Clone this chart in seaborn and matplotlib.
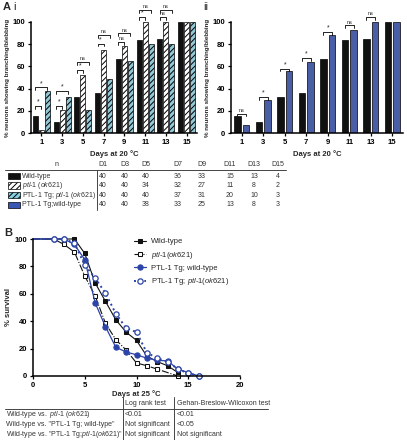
import matplotlib
matplotlib.use("Agg")
import matplotlib.pyplot as plt
from matplotlib.lines import Line2D
from matplotlib.patches import Rectangle
import pandas as pd
import seaborn as sns

# ---- panel A data (% neurons showing branching/blebbing) ----
Days = [1, 3, 5, 7, 9, 11, 13, 15]
WildType = [15, 10, 32.5, 36, 67, 83.5, 85, 100]
Ptl1 = [3, 20.5, 52, 75, 78, 100, 100, 100]
TgPtl1 = [37.5, 32.5, 20.5, 49, 64.5, 80.5, 80.5, 100]
TgWildType = [7.5, 30, 55.5, 64, 88.5, 92.5, 100, 100]

# significance brackets: (height, label), one per day (none at day 15)
SigPtl1 = [(24, "*"), (24, "*"), (56.5, "*"), (80.5, "*"), (82, "ns"), (104.5, "*"), (104.5, "ns")]
SigTgPtl1 = [(41, "*"), (38, "*"), (64, "ns"), (88.5, "ns"), (90, "ns"), (111, "ns"), (111, "ns")]
SigTgWT = [(17.5, "ns"), (32.5, "*"), (58, "*"), (67.5, "*"), (91, "*"), (97, "ns"), (104.5, "ns")]

# n per day
TableCols = ["D1", "D3", "D5", "D7", "D9", "D11", "D13", "D15"]
N_WT = [40, 40, 40, 36, 33, 15, 13, 4]
N_Ptl1 = [40, 40, 34, 32, 27, 11, 8, 2]
N_TgPtl1 = [40, 40, 40, 37, 31, 20, 10, 3]
N_TgWT = [40, 40, 38, 33, 25, 13, 8, 3]

# ---- panel B data (% survival at 25 C) ----
SurvDaysWT = [0, 4, 5, 6, 7, 8, 9, 10, 11, 12, 13, 14]
SurvWT = [100, 100, 89.5, 68, 54.5, 41, 32, 26, 14.5, 10.5, 7.5, 2.5]
SurvDaysPtl1 = [0, 2, 3, 4, 5, 6, 7, 8, 9, 10, 11, 12, 14]
SurvPtl1 = [100, 100, 96, 90.5, 73, 58.5, 38.5, 26.5, 19, 9.5, 7.5, 5, 0]
SurvDaysTgWT = [0, 2, 3, 4, 5, 6, 7, 8, 9, 10, 11, 12, 13, 14, 15, 16]
SurvTgWT = [100, 100, 100, 96, 85, 53.5, 36, 21, 17.5, 15.5, 13, 11.5, 11, 5, 2.5, 0]
SurvDaysTgPtl1 = [0, 2, 3, 4, 5, 6, 7, 8, 9, 10, 11, 12, 13, 14, 15, 16]
SurvTgPtl1 = [100, 100, 100, 97, 81, 71.5, 60.5, 45.5, 35, 32, 17, 13, 10.5, 5, 2, 0]

TestRows = ['Wild-type vs.  $\\mathit{ptl}$-$\\mathit{1\\ (ok621)}$',
            'Wild-type vs. "PTL-1 Tg; wild-type"',
            'Wild-type vs. "PTL-1 Tg;$\\mathit{ptl}$-$\\mathit{1(ok621)}$"']
LogRank = ["<0.01", "Not significant", "Not significant"]
Gehan = ["<0.01", "<0.05", "Not significant"]

BLACK = "#111111"
LIGHTBLUE = "#86cfe3"
BLUE = "#3a56b4"
LINEBLUE = "#2c44a8"
PTL_LABEL = "$\\mathit{ptl}$-$\\mathit{1(ok621)}$"

sns.set_style("ticks")
plt.rcParams["font.family"] = ["Liberation Sans", "DejaVu Sans"]
plt.rcParams["mathtext.fontset"] = "custom"
plt.rcParams["mathtext.rm"] = "Liberation Sans"
plt.rcParams["mathtext.it"] = "Liberation Sans:italic"
plt.rcParams["mathtext.bf"] = "Liberation Sans:bold"
plt.rcParams["hatch.linewidth"] = 0.7
plt.rcParams["hatch.color"] = "black"

W, H = 407, 440
def fx(px):
    return px / W
def fy(py):
    return 1 - py / H

fig = plt.figure(figsize=(W / 100, H / 100), dpi=100)
axi = fig.add_axes([fx(31), fy(133), 166 / W, 111 / H])
axii = fig.add_axes([fx(231), fy(133), 172 / W, 111 / H])
axb = fig.add_axes([fx(33), fy(376), 207 / W, 137 / H])


def prism_axes(ax):
    sns.despine(ax=ax)
    for s in ["left", "bottom"]:
        ax.spines[s].set_linewidth(1.1)
        ax.spines[s].set_color("black")
    ax.tick_params(length=2.5, width=0.9, pad=1.5, labelsize=5.5, colors="black")
    for lab in ax.get_xticklabels() + ax.get_yticklabels():
        lab.set_fontweight("bold")


def bracket(ax, x1, x2, y, text):
    d = 2.5
    ax.plot([x1, x1, x2, x2], [y - d, y, y, y - d], color="black", lw=0.6, clip_on=False)
    ax.text((x1 + x2) / 2, y + 0.5, text, ha="center", va="bottom", fontsize=4 if text == "ns" else 5,
            clip_on=False)


# ---- panel A i ----
df_i = pd.DataFrame({
    "Day": Days * 3,
    "Value": WildType + Ptl1 + TgPtl1,
    "Group": ["wt"] * len(Days) + ["ptl"] * len(Days) + ["tgptl"] * len(Days),
})
sns.barplot(data=df_i, x="Day", y="Value", hue="Group", hue_order=["wt", "ptl", "tgptl"],
            palette=[BLACK, "white", LIGHTBLUE], width=0.85, gap=0.15, errorbar=None,
            edgecolor="black", linewidth=0.5, legend=False, ax=axi)
for cont, hatch in zip(axi.containers, [None, "//////", "//////"]):
    for bar in cont:
        if hatch:
            bar.set_hatch(hatch)
off = 0.85 / 3
for i, ((h1, t1), (h2, t2)) in enumerate(zip(SigPtl1, SigTgPtl1)):
    bracket(axi, i - off, i, h1, t1)
    bracket(axi, i - off, i + off, h2, t2)

# ---- panel A ii ----
df_ii = pd.DataFrame({
    "Day": Days * 2,
    "Value": WildType + TgWildType,
    "Group": ["wt"] * len(Days) + ["tgwt"] * len(Days),
})
sns.barplot(data=df_ii, x="Day", y="Value", hue="Group", hue_order=["wt", "tgwt"],
            palette=[BLACK, BLUE], width=0.8, gap=0.25, errorbar=None,
            edgecolor="black", linewidth=0.5, legend=False, ax=axii)
for i, (h, t) in enumerate(SigTgWT):
    bracket(axii, i - 0.2, i + 0.2, h, t)

for ax in (axi, axii):
    ax.set_ylim(0, 100)
    ax.set_xlim(-0.5, len(Days) - 0.5)
    ax.set_yticks([0, 20, 40, 60, 80, 100])
    ax.set_ylabel("% neurons showing branching/blebbing", fontsize=4.5, fontweight="bold", labelpad=2)
    ax.set_xlabel("Days at 20 \u00b0C", fontsize=5.5, fontweight="bold", labelpad=3)
    prism_axes(ax)

fig.text(fx(3), fy(7), "A", fontsize=8, fontweight="bold", va="center")
fig.text(fx(13), fy(7), "i", fontsize=8, va="center")
fig.text(fx(203), fy(7), "ii", fontsize=8, va="center")

# ---- table A ----
TXT = "#333333"
colx = [103, 125, 146, 178, 202, 230, 254, 278]
fig.text(fx(57), fy(164), "n", fontsize=5, color=TXT, ha="center", va="center")
for x, c in zip(colx, TableCols):
    fig.text(fx(x), fy(164), c, fontsize=5, color=TXT, ha="center", va="center")
fig.add_artist(Line2D([fx(5), fx(286)], [fy(170), fy(170)], transform=fig.transFigure, color="#444444", lw=0.7))
fig.add_artist(Line2D([fx(97), fx(97)], [fy(170), fy(210)], transform=fig.transFigure, color="#444444", lw=0.7))
row_y = [176, 185.5, 195.5, 205]
row_labels = ["Wild-type", "$\\mathit{ptl}$-$\\mathit{1\\ (ok621)}$",
              "PTL-1 Tg; $\\mathit{ptl}$-$\\mathit{1\\ (ok621)}$", "PTL-1 Tg;wild-type"]
row_face = [BLACK, "white", LIGHTBLUE, BLUE]
row_hatch = [None, "//////", "//////", None]
for y, lab, fc, hat, vals in zip(row_y, row_labels, row_face, row_hatch, [N_WT, N_Ptl1, N_TgPtl1, N_TgWT]):
    fig.add_artist(Rectangle((fx(8), fy(y + 3)), 12 / W, 6 / H, transform=fig.transFigure,
                             facecolor=fc, edgecolor="black", lw=0.5, hatch=hat))
    fig.text(fx(22), fy(y), lab, fontsize=5, color=TXT, va="center")
    for x, v in zip(colx, vals):
        fig.text(fx(x), fy(y), str(v), fontsize=5, color=TXT, ha="center", va="center")

# ---- panel B ----
sns.lineplot(x=SurvDaysWT, y=SurvWT, color=BLACK, lw=0.8, linestyle="-", marker="s", markersize=3.5,
             markerfacecolor=BLACK, markeredgecolor=BLACK, markevery=slice(1, None),
             label="Wild-type", ax=axb)
sns.lineplot(x=SurvDaysPtl1, y=SurvPtl1, color=BLACK, lw=0.8, linestyle="-.", marker="s", markersize=3.5,
             markerfacecolor="white", markeredgecolor=BLACK, markevery=slice(1, None),
             label=PTL_LABEL, ax=axb)
sns.lineplot(x=SurvDaysTgWT, y=SurvTgWT, color=LINEBLUE, lw=0.9, linestyle="-", marker="o", markersize=3.8,
             markerfacecolor=LINEBLUE, markeredgecolor=LINEBLUE, markevery=slice(1, None),
             label="PTL-1 Tg; wild-type", ax=axb)
sns.lineplot(x=SurvDaysTgPtl1, y=SurvTgPtl1, color=LINEBLUE, lw=1.4, linestyle=":", marker="o", markersize=3.8,
             markerfacecolor="white", markeredgecolor=LINEBLUE, markeredgewidth=0.9,
             markevery=slice(1, None), label="PTL-1 Tg; " + PTL_LABEL, ax=axb)
axb.set_xlim(0, 20)
axb.set_ylim(0, 100)
axb.set_xticks([0, 5, 10, 15, 20])
axb.set_yticks([0, 20, 40, 60, 80, 100])
axb.set_xlabel("Days at 25 \u00b0C", fontsize=5.5, fontweight="bold", labelpad=1)
axb.set_ylabel("% survival", fontsize=5.5, fontweight="bold", labelpad=2)
prism_axes(axb)
for m in axb.lines:
    m.set_clip_on(False)
axb.legend(loc="upper left", bbox_to_anchor=(fx(134), fy(238)), bbox_transform=fig.transFigure,
           frameon=False, fontsize=5.5, handlelength=1.6, handletextpad=0.6, labelspacing=0.55,
           borderaxespad=0, borderpad=0)
fig.text(fx(4), fy(233), "B", fontsize=8, fontweight="bold", va="center")

# ---- table B ----
fig.text(fx(125), fy(403), "Log rank test", fontsize=5, color=TXT, va="center")
fig.text(fx(177), fy(403), "Gehan-Breslow-Wilcoxon test", fontsize=5, color=TXT, va="center")
fig.add_artist(Line2D([fx(5), fx(268)], [fy(409), fy(409)], transform=fig.transFigure, color="#444444", lw=0.7))
for xv in (123, 174):
    fig.add_artist(Line2D([fx(xv), fx(xv)], [fy(397), fy(440)], transform=fig.transFigure, color="#444444", lw=0.7))
for y, lab, a, b in zip([414, 424, 434], TestRows, LogRank, Gehan):
    fig.text(fx(6), fy(y), lab, fontsize=5, color=TXT, va="center")
    fig.text(fx(125), fy(y), a, fontsize=5, color=TXT, va="center")
    fig.text(fx(177), fy(y), b, fontsize=5, color=TXT, va="center")

fig.savefig("out.png", dpi=100)
